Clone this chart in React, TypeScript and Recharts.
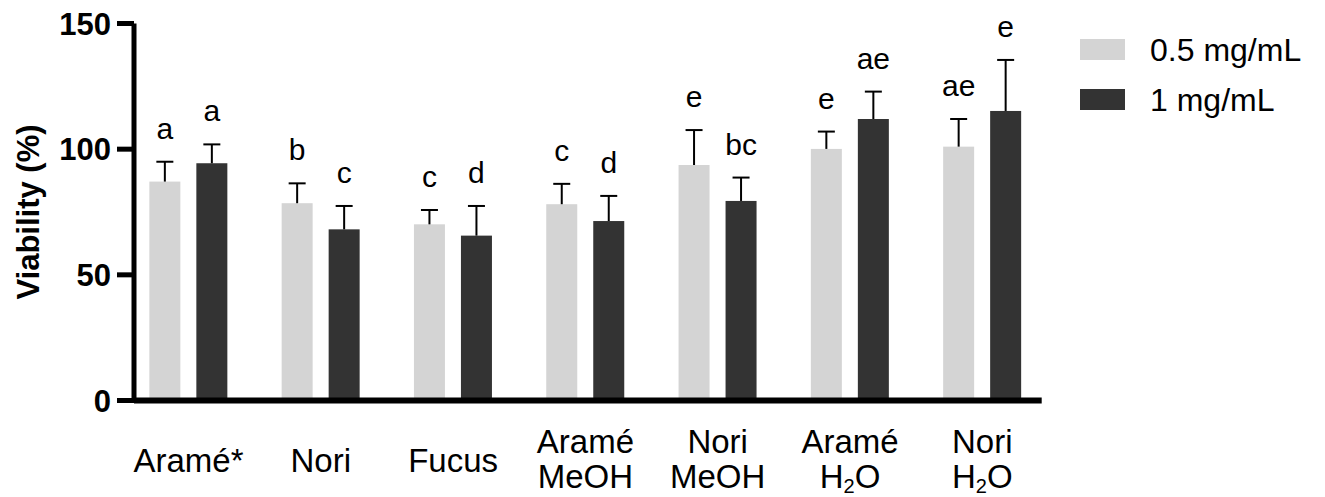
import React from 'react';
import { BarChart, Bar, XAxis, YAxis, Legend } from 'recharts';

// categories (line breaks mark the two-line labels)
const categories = ['Aramé*', 'Nori', 'Fucus', 'Aramé\nMeOH', 'Nori\nMeOH', 'Aramé\nH₂O', 'Nori\nH₂O'];

// mean viability (%) and SD, 0.5 mg/mL
const lowMeans = [87.1, 78.5, 70.1, 78.1, 93.7, 100.1, 101.0];
const lowSd = [7.9, 7.9, 5.7, 8.1, 13.9, 6.9, 11.0];
const lowLetters = ['a', 'b', 'c', 'c', 'e', 'e', 'ae'];

// mean viability (%) and SD, 1 mg/mL
const highMeans = [94.4, 68.1, 65.6, 71.4, 79.4, 112.0, 115.2];
const highSd = [7.5, 9.3, 11.8, 10.0, 9.3, 10.9, 20.3];
const highLetters = ['a', 'c', 'd', 'd', 'bc', 'ae', 'e'];

const yTicks = [0, 50, 100, 150];

const FONT = '"Liberation Sans", Arial, sans-serif';

const data = categories.map((name, i) => ({
  name,
  low: lowMeans[i],
  lowSd: lowSd[i],
  lowLetter: lowLetters[i],
  high: highMeans[i],
  highSd: highSd[i],
  highLetter: highLetters[i],
}));

// bar + upward-only error bar + significance letter
const BarWithError = (props: any) => {
  const { x, y, width, height, fill, payload, valueKey, sdKey, letterKey } = props;
  const value = payload[valueKey];
  const pxPerUnit = value ? height / value : 0;
  const cx = x + width / 2;
  const errTop = y - payload[sdKey] * pxPerUnit;
  return (
    <g>
      <rect x={x} y={y} width={width} height={height} fill={fill} />
      <line x1={cx} y1={y} x2={cx} y2={errTop} stroke="#000" strokeWidth={2} />
      <line x1={cx - 8.5} y1={errTop} x2={cx + 8.5} y2={errTop} stroke="#000" strokeWidth={2} />
      <text x={cx} y={errTop - 23} textAnchor="middle" fontSize={30} fontFamily={FONT} fill="#000">
        {payload[letterKey]}
      </text>
    </g>
  );
};

const renderLine = (line: string) => {
  if (!line.includes('₂')) return line;
  const [before, after] = line.split('₂');
  return (
    <>
      <tspan>{before}</tspan>
      <tspan fontSize={20} dy={5}>2</tspan>
      <tspan dy={-5}>{after}</tspan>
    </>
  );
};

const CategoryTick = (props: any) => {
  const { x, y, payload } = props;
  const lines = String(payload.value).split('\n');
  const first = lines.length === 1 ? 71.5 : 52.5;
  return (
    <g>
      {lines.map((line, i) => (
        <text key={i} x={x} y={y + first + i * 35} textAnchor="middle" fontSize={33} fontFamily={FONT} fill="#000">
          {renderLine(line)}
        </text>
      ))}
    </g>
  );
};

const renderLegend = (props: any) => {
  const { payload } = props;
  return (
    <div style={{ fontFamily: FONT }}>
      {payload.map((entry: any) => (
        <div key={entry.value} style={{ display: 'flex', alignItems: 'center', height: 50 }}>
          <span style={{ display: 'inline-block', width: 45, height: 21, background: entry.color, marginRight: 25 }} />
          <span style={{ fontSize: 32, lineHeight: '32px', color: '#000', whiteSpace: 'nowrap' }}>{entry.value}</span>
        </div>
      ))}
    </div>
  );
};

export default function App() {
  return (
    <div style={{ position: 'absolute', left: 0, top: 0, width: 1325, height: 497, background: '#fff', fontFamily: FONT }}>
      <BarChart
        width={1325}
        height={497}
        data={data}
        margin={{ top: 23.5, right: 283.3, bottom: 0, left: 0 }}
        barGap={16}
      >
        <XAxis
          dataKey="name"
          height={96.5}
          interval={0}
          tickLine={false}
          tickSize={0}
          tickMargin={0}
          axisLine={{ stroke: '#000', strokeWidth: 6 }}
          padding={{ left: -11.65, right: -6.75 }}
          tick={<CategoryTick />}
        />
        <YAxis
          width={134}
          domain={[0, 150]}
          ticks={yTicks}
          interval={0}
          tickSize={17}
          tickMargin={6}
          axisLine={{ stroke: '#000', strokeWidth: 5 }}
          tickLine={{ stroke: '#000', strokeWidth: 5 }}
          tick={{ fill: '#000', fontSize: 31, fontWeight: 'bold', fontFamily: FONT }}
          label={{
            value: 'Viability (%)',
            angle: -90,
            position: 'insideLeft',
            offset: 28,
            style: { textAnchor: 'middle', fontSize: 31, fontWeight: 'bold', fontFamily: FONT, fill: '#000' },
          }}
        />
        <Legend
          layout="horizontal"
          verticalAlign="middle"
          align="center"
          content={renderLegend}
          wrapperStyle={{ left: 1080, top: 24.7, width: 245 }}
        />
        <Bar
          dataKey="low"
          name="0.5 mg/mL"
          fill="#d4d4d4"
          barSize={31}
          isAnimationActive={false}
          shape={(p: any) => <BarWithError {...p} valueKey="low" sdKey="lowSd" letterKey="lowLetter" />}
        />
        <Bar
          dataKey="high"
          name="1 mg/mL"
          fill="#333333"
          barSize={31}
          isAnimationActive={false}
          shape={(p: any) => <BarWithError {...p} valueKey="high" sdKey="highSd" letterKey="highLetter" />}
        />
      </BarChart>
    </div>
  );
}
